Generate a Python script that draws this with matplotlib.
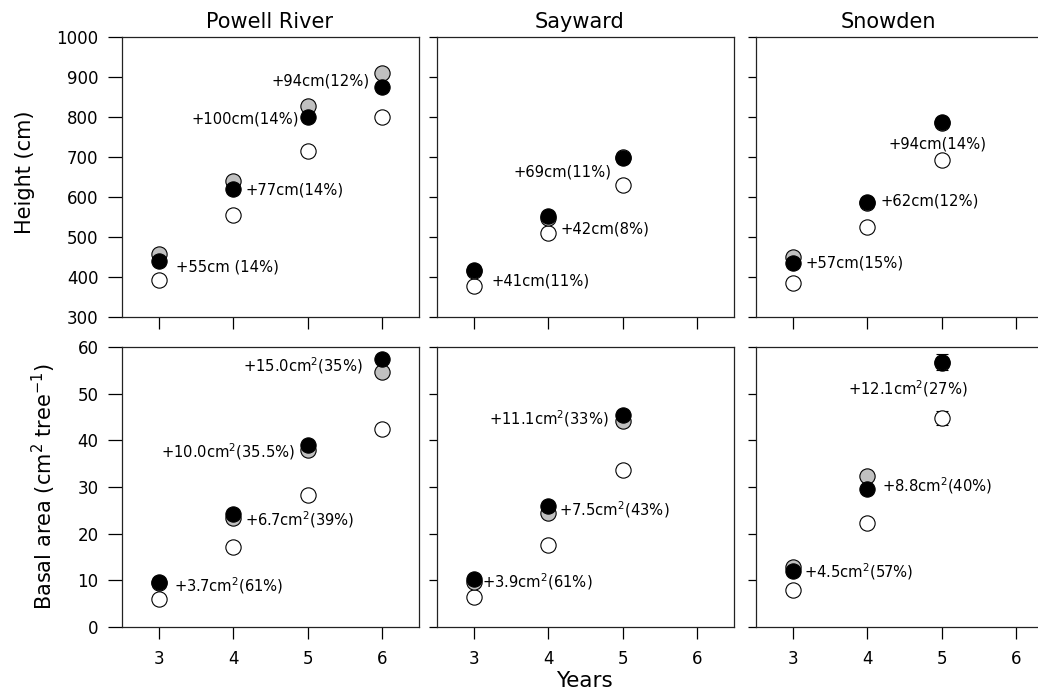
import numpy as np
import matplotlib
matplotlib.use('Agg')
import matplotlib.pyplot as plt

plt.rcParams['font.family'] = ['DejaVu Sans']
plt.rcParams['mathtext.fontset'] = 'dejavusans'

sites = ['Powell River', 'Sayward', 'Snowden']

# years measured at each site
yrs_powell = [3, 4, 5, 6]
yrs_sayward = [3, 4, 5]
yrs_snowden = [3, 4, 5]

# height (cm): open = control, gray, black
ht_open_powell = [393, 556, 714, 800]
ht_gray_powell = [458, 641, 828, 910]
ht_black_powell = [441, 621, 801, 876]
ht_open_sayward = [377, 510, 629]
ht_gray_sayward = [416, 548, 699]
ht_black_sayward = [418, 552, 698]
ht_open_snowden = [385, 525, 693]
ht_gray_snowden = [451, 585, 786]
ht_black_snowden = [436, 588, 788]

# basal area (cm2 tree-1)
ba_open_powell = [6.0, 17.1, 28.3, 42.5]
ba_gray_powell = [9.5, 23.4, 38.0, 54.6]
ba_black_powell = [9.6, 24.3, 39.1, 57.5]
ba_open_sayward = [6.4, 17.6, 33.7]
ba_gray_sayward = [9.6, 24.4, 44.2]
ba_black_sayward = [10.3, 26.0, 45.5]
ba_open_snowden = [7.9, 22.3, 44.8]
ba_gray_snowden = [12.9, 32.3, 56.5]
ba_black_snowden = [11.9, 29.6, 56.8]

# error bars (only visible ones, Snowden year 5)
ba_open_err_snowden = [0, 0, 1.55]
ba_black_err_snowden = [0, 0, 1.8]

# annotations: (x, y, text, alignment)
ht_notes = [
    [(3.23, 424, '+55cm (14%)', 'left'), (4.16, 618, '+77cm(14%)', 'left'),
     (4.88, 795, '+100cm(14%)', 'right'), (5.83, 891, '+94cm(12%)', 'right')],
    [(3.23, 391, '+41cm(11%)', 'left'), (4.16, 521, '+42cm(8%)', 'left'),
     (4.85, 662, '+69cm(11%)', 'right')],
    [(3.16, 436, '+57cm(15%)', 'left'), (4.18, 591, '+62cm(12%)', 'left'),
     (4.95, 733, '+94cm(14%)', 'center')],
]
ba_notes = [
    [(3.20, 8.85, '+3.7cm$^2$(61%)', 'left'), (4.16, 23.1, '+6.7cm$^2$(39%)', 'left'),
     (4.83, 37.6, '+10.0cm$^2$(35.5%)', 'right'), (5.74, 56.1, '+15.0cm$^2$(35%)', 'right')],
    [(3.11, 9.8, '+3.9cm$^2$(61%)', 'left'), (4.14, 25.1, '+7.5cm$^2$(43%)', 'left'),
     (4.82, 44.6, '+11.1cm$^2$(33%)', 'right')],
    [(3.14, 11.8, '+4.5cm$^2$(57%)', 'left'), (4.20, 30.3, '+8.8cm$^2$(40%)', 'left'),
     (4.54, 51.1, '+12.1cm$^2$(27%)', 'center')],
]

years = [yrs_powell, yrs_sayward, yrs_snowden]
ht = [(ht_open_powell, ht_gray_powell, ht_black_powell),
      (ht_open_sayward, ht_gray_sayward, ht_black_sayward),
      (ht_open_snowden, ht_gray_snowden, ht_black_snowden)]
ba = [(ba_open_powell, ba_gray_powell, ba_black_powell),
      (ba_open_sayward, ba_gray_sayward, ba_black_sayward),
      (ba_open_snowden, ba_gray_snowden, ba_black_snowden)]

W, H = 1038, 691
fig = plt.figure(figsize=(W/100, H/100), dpi=100)

lefts = [122, 437, 756]
pw = 297
tops = [37, 347]
ph = 280

ms = 11
styles = [dict(mfc='white', mec='black'), dict(mfc='#c0c0c0', mec='black'),
          dict(mfc='black', mec='black')]

title_x = [270, 580, 888]

for col in range(3):
    for row in range(2):
        ax = fig.add_axes([lefts[col]/W, 1-(tops[row]+ph)/H, pw/W, ph/H])
        x = years[col]
        series = ht[col] if row == 0 else ba[col]
        for k, vals in enumerate(series):
            err = None
            if col == 2 and row == 1 and k in (0, 2):
                err = ba_open_err_snowden if k == 0 else ba_black_err_snowden
            if err is not None:
                ax.errorbar(x, vals, yerr=err, fmt='none', ecolor='black',
                            elinewidth=0.8, capsize=4.5, capthick=0.8, zorder=2+k)
            ax.plot(x, vals, 'o', ms=ms, mew=0.8, zorder=3+k, clip_on=False, **styles[k])
        notes = ht_notes[col] if row == 0 else ba_notes[col]
        for (tx, ty, s, ha) in notes:
            ax.text(tx, ty, s, ha=ha, va='center', fontsize=10.6, zorder=10)

        ax.set_xlim(2.5, 6.5)
        ax.set_xticks([3, 4, 5, 6])
        if row == 0:
            ax.set_ylim(300, 1000)
            ax.set_yticks(np.arange(300, 1001, 100))
            ax.set_xticklabels([])
        else:
            ax.set_ylim(0, 60)
            ax.set_yticks(np.arange(0, 61, 10))
        ylen = 10 if col == 0 else 5.8
        ax.tick_params(axis='y', direction='out', length=ylen, width=0.9,
                       labelsize=12, pad=7)
        ax.tick_params(axis='x', direction='out', length=8.6, width=0.9,
                       labelsize=12, pad=8)
        if col > 0:
            ax.set_yticklabels([])
        for sp in ax.spines.values():
            sp.set_linewidth(0.9)
            sp.set_color('#222222')

    fig.text(title_x[col]/W, 1-28/H, sites[col], ha='center', va='baseline', fontsize=15)

fig.text(25/W, 1-172/H, 'Height (cm)', rotation=90, ha='center', va='center', fontsize=15)
fig.text(44/W, 1-487/H, r'Basal area (cm$^2$ tree$^{-1}$)', rotation=90,
         ha='center', va='center', fontsize=15)
fig.text(584/W, 1-687/H, 'Years', ha='center', va='baseline', fontsize=15.5)

fig.savefig('out.png', dpi=100)
